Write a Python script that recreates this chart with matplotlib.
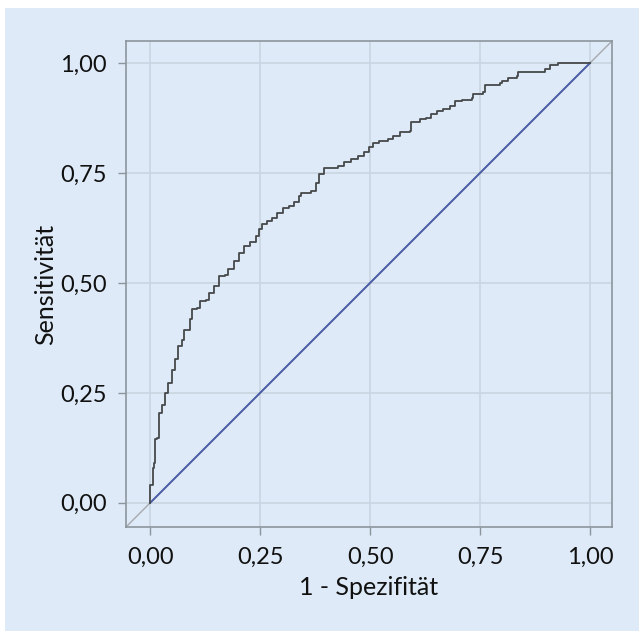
import matplotlib
matplotlib.use("Agg")
import matplotlib.pyplot as plt
from matplotlib.patches import Rectangle

# ROC curve (1 - specificity, sensitivity)
fpr = [0.0, 0.0, 0.006, 0.009, 0.011, 0.016, 0.019, 0.027, 0.034, 0.041,
       0.050, 0.057, 0.064, 0.072, 0.076, 0.091, 0.095, 0.107, 0.114, 0.126,
       0.133, 0.145, 0.156, 0.171, 0.178, 0.190, 0.201, 0.213, 0.228, 0.240,
       0.247, 0.255, 0.266, 0.278, 0.289, 0.301, 0.316, 0.327, 0.339, 0.342,
       0.365, 0.377, 0.384, 0.396, 0.426, 0.441, 0.457, 0.472, 0.487, 0.498,
       0.506, 0.521, 0.540, 0.552, 0.567, 0.590, 0.594, 0.613, 0.628, 0.639,
       0.651, 0.666, 0.681, 0.692, 0.708, 0.731, 0.734, 0.757, 0.761, 0.795,
       0.799, 0.814, 0.833, 0.837, 0.894, 0.898, 0.909, 0.928, 1.0]
tpr = [0.0, 0.041, 0.080, 0.091, 0.144, 0.148, 0.205, 0.223, 0.250, 0.273,
       0.303, 0.326, 0.356, 0.371, 0.394, 0.417, 0.440, 0.444, 0.459, 0.462,
       0.478, 0.493, 0.516, 0.519, 0.531, 0.550, 0.569, 0.584, 0.592, 0.607,
       0.622, 0.633, 0.641, 0.648, 0.660, 0.671, 0.675, 0.683, 0.698, 0.705,
       0.709, 0.728, 0.747, 0.762, 0.766, 0.774, 0.781, 0.789, 0.797, 0.808,
       0.819, 0.823, 0.827, 0.834, 0.842, 0.846, 0.865, 0.872, 0.876, 0.884,
       0.891, 0.895, 0.903, 0.914, 0.916, 0.920, 0.929, 0.933, 0.950, 0.954,
       0.958, 0.967, 0.971, 0.979, 0.979, 0.986, 0.995, 1.0, 1.0]

ticks = [0.0, 0.25, 0.5, 0.75, 1.0]
tick_labels = ["0,00", "0,25", "0,50", "0,75", "1,00"]
LIM = (-0.055, 1.05)

BG = "#deeaf7"
FRAME = "#8c959c"

plt.rcParams["font.family"] = ["Lato", "DejaVu Sans"]

fig = plt.figure(figsize=(6.39, 6.31), dpi=100)
fig.patch.set_facecolor("white")
# light-blue panel (small white margin top/left like the source)
fig.patches.append(Rectangle((5 / 639, 0), 1, 1 - 8 / 631, transform=fig.transFigure,
                             facecolor=BG, edgecolor="none", zorder=-10))

ax = fig.add_axes([126 / 639, 104 / 631, 486 / 639, 486 / 631])
ax.set_facecolor(BG)
ax.set_xlim(LIM)
ax.set_ylim(LIM)

ax.grid(True, color="#c9d5e1", linewidth=1.2)
ax.set_axisbelow(True)

# reference line across the whole frame, then the chance line
ax.plot(LIM, LIM, color="#a5a9ad", linewidth=1.0, zorder=2)
ax.plot([0, 1], [0, 1], color="#4a5da6", linewidth=1.4, zorder=3)
ax.step(fpr, tpr, where="post", color="#46494b", linewidth=1.3, zorder=4)

ax.set_xticks(ticks)
ax.set_xticklabels(tick_labels)
ax.set_yticks(ticks)
ax.set_yticklabels(tick_labels)
ax.tick_params(axis="both", length=6, width=1.0, color=FRAME, labelsize=17,
               labelcolor="#111111", pad=8)
for s in ax.spines.values():
    s.set_color(FRAME)
    s.set_linewidth(1.2)

ax.set_xlabel("1 - Spezifität", fontsize=18, color="#111111", labelpad=6)
ax.set_ylabel("Sensitivität", fontsize=18, color="#111111", labelpad=2)

fig.savefig("out.png", dpi=100, facecolor=fig.get_facecolor())
